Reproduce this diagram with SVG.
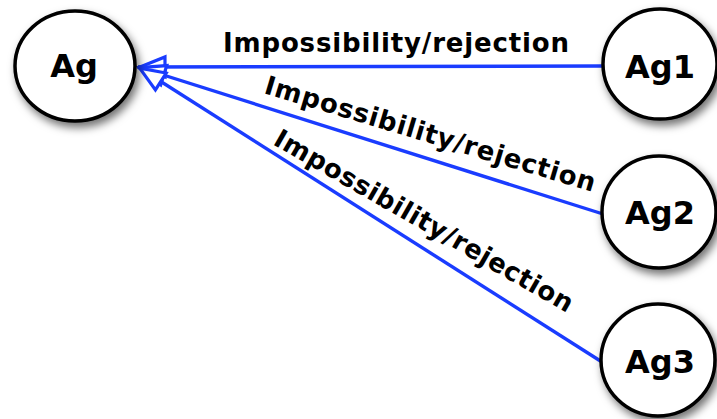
<svg xmlns="http://www.w3.org/2000/svg" width="717" height="419" viewBox="0 0 717 419">
  <style>
    .node ellipse { fill: #ffffff; stroke: #000000; stroke-width: 3.5; filter: url(#shadow); }
    .node text { font-family: "DejaVu Sans", "Liberation Sans", sans-serif; font-weight: bold; font-size: 32px; fill: #000000; text-anchor: middle; }
    .edge { stroke: #1a3cff; stroke-width: 3.4; fill: none; marker-end: url(#openArrow); }
    .label { font-family: "DejaVu Sans", "Liberation Sans", sans-serif; font-weight: bold; font-size: 26px; fill: #000000; }
  </style>
  <defs>
    <filter id="shadow" x="-30%" y="-30%" width="170%" height="170%">
      <feDropShadow dx="3" dy="5" stdDeviation="4" flood-color="#000000" flood-opacity="0.55"/>
    </filter>
    <marker id="openArrow" markerUnits="userSpaceOnUse" viewBox="-32 -15 36 30" markerWidth="36" markerHeight="30" refX="0" refY="0" orient="auto">
      <path d="M-2,0 L-27,-10 L-27,10 Z" fill="#ffffff" stroke="#1a3cff" stroke-width="3.2" stroke-linejoin="miter"/>
    </marker>
  </defs>

  <g id="connectors">
    <line class="edge" x1="603" y1="66" x2="138" y2="67"/>
    <line class="edge" x1="603" y1="214" x2="138" y2="67"/>
    <line class="edge" x1="602" y1="362" x2="138" y2="67"/>
    <text class="label" x="223" y="52" textLength="346" lengthAdjust="spacing">Impossibility/rejection</text>
    <text class="label" x="0" y="0" textLength="344" lengthAdjust="spacing" transform="translate(263,93) rotate(16.7)">Impossibility/rejection</text>
    <text class="label" x="0" y="0" textLength="340" lengthAdjust="spacing" transform="translate(272,144) rotate(29.8)">Impossibility/rejection</text>
  </g>

  <g id="Ag" class="node">
    <ellipse cx="75" cy="66" rx="60" ry="55"/>
    <text x="74" y="77">Ag</text>
  </g>
  <g id="Ag1" class="node">
    <ellipse cx="660" cy="64" rx="57" ry="55"/>
    <text x="660" y="78">Ag1</text>
  </g>
  <g id="Ag2" class="node">
    <ellipse cx="659" cy="212" rx="57" ry="56"/>
    <text x="660" y="224">Ag2</text>
  </g>
  <g id="Ag3" class="node">
    <ellipse cx="658" cy="360" rx="57" ry="56"/>
    <text x="660" y="373">Ag3</text>
  </g>
</svg>
